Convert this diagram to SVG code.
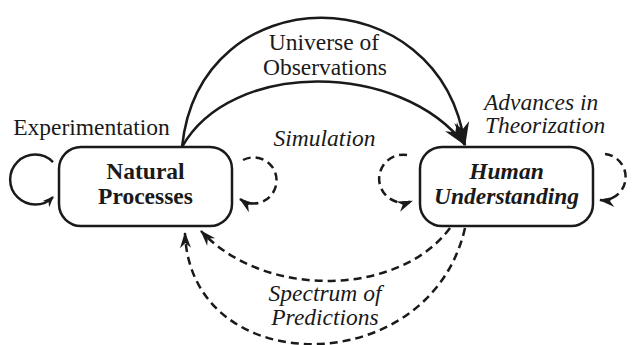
<svg xmlns="http://www.w3.org/2000/svg" width="640" height="345" viewBox="0 0 640 345">
  <style>
    .box { fill: #ffffff; stroke: #1a1a1a; stroke-width: 2.5; }
    .solid { fill: none; stroke: #1a1a1a; stroke-width: 2.5; }
    .dash { fill: none; stroke: #1a1a1a; stroke-width: 2.5; stroke-dasharray: 8 5; }
    .lbl { font-size: 23.5px; fill: #1a1a1a; }
    .it { font-style: italic; }
    .node { font-size: 23.5px; font-weight: bold; text-anchor: middle; fill: #1a1a1a; }
    .mid { text-anchor: middle; }
  </style>
  <defs>
    <marker id="bigArrow" viewBox="-24 -9 26 18" refX="0" refY="0" markerWidth="26" markerHeight="18" markerUnits="userSpaceOnUse" orient="auto">
      <path d="M1,0 L-23,-7.5 L-16,0 L-23,7.5 Z" fill="#1a1a1a"/>
    </marker>
    <marker id="dashArrow" viewBox="-16 -7 18 14" refX="0" refY="0" markerWidth="18" markerHeight="14" markerUnits="userSpaceOnUse" orient="auto">
      <path d="M1,0 L-15,-5.5 L-10,0 L-15,5.5 Z" fill="#1a1a1a"/>
    </marker>
    <marker id="smallArrow" viewBox="-11 -6 13 12" refX="0" refY="0" markerWidth="13" markerHeight="12" markerUnits="userSpaceOnUse" orient="auto">
      <path d="M1,0 L-10,-4.5 L-6.5,0 L-10,4.5 Z" fill="#1a1a1a"/>
    </marker>
  </defs>

  <g id="connectors">
    <path class="solid" d="M182,147 C200,-25 440,-25 465,145" marker-end="url(#bigArrow)"/>
    <path class="solid" d="M182,147 C230,60 400,60 465,145" marker-end="url(#bigArrow)"/>
    <path class="solid" d="M53,162 A25,25 0 1 0 53,197" marker-end="url(#smallArrow)"/>
    <path class="dash" d="M243,160 A23,23 0 1 1 240,199" marker-end="url(#dashArrow)"/>
    <path class="dash" d="M407,155 A24,24 0 1 0 412,201" marker-end="url(#dashArrow)"/>
    <path class="dash" d="M605,154 A23,23 0 1 1 600,200" marker-end="url(#dashArrow)"/>
    <path class="dash" d="M450,228 C400,296 265,300 201,231" marker-end="url(#dashArrow)"/>
    <path class="dash" d="M465,228 C430,382 190,382 185,233" marker-end="url(#dashArrow)"/>
  </g>

  <g id="natural-processes" font-family="Liberation Serif, Times New Roman, serif">
    <rect class="box" x="59" y="147" width="173" height="79" rx="22" ry="22"/>
    <text class="node" x="145.5" y="179">Natural</text>
    <text class="node" x="145.5" y="204">Processes</text>
  </g>

  <g id="human-understanding" font-family="Liberation Serif, Times New Roman, serif">
    <rect class="box" x="420" y="147" width="173" height="79" rx="22" ry="22"/>
    <text class="node it" x="506.5" y="179">Human</text>
    <text class="node it" x="506.5" y="204">Understanding</text>
  </g>

  <g id="labels" font-family="Liberation Serif, Times New Roman, serif">
    <text class="lbl mid" x="91.5" y="135">Experimentation</text>
    <text class="lbl mid" x="324" y="50">Universe of</text>
    <text class="lbl mid" x="325" y="75">Observations</text>
    <text class="lbl it mid" x="324.5" y="146">Simulation</text>
    <text class="lbl it" x="484" y="110">Advances in</text>
    <text class="lbl it" x="485" y="133">Theorization</text>
    <text class="lbl it mid" x="325" y="301">Spectrum of</text>
    <text class="lbl it mid" x="325" y="325">Predictions</text>
  </g>
</svg>
